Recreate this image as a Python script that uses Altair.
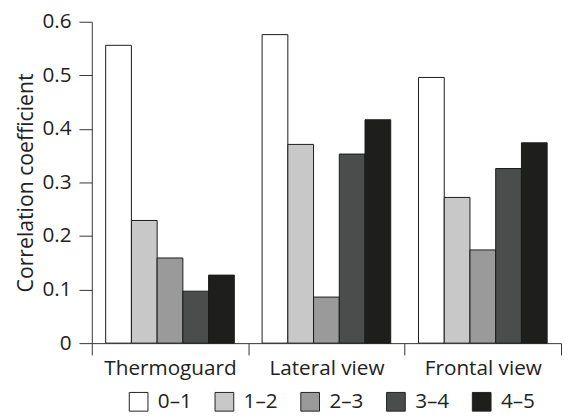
import altair as alt
import pandas as pd

groups = ["Thermoguard", "Lateral view", "Frontal view"]
bins = ["0–1", "1–2", "2–3", "3–4", "4–5"]
thermoguard = [0.556, 0.229, 0.159, 0.097, 0.127]
lateral = [0.576, 0.371, 0.086, 0.353, 0.417]
frontal = [0.496, 0.272, 0.174, 0.326, 0.374]
colors = ["#ffffff", "#c8c8c8", "#9a9a9a", "#4b4d4c", "#1e1e1c"]
y_ticks = [0, 0.1, 0.2, 0.3, 0.4, 0.5, 0.6]

rows = []
for g, vals in zip(groups, [thermoguard, lateral, frontal]):
    for b, v in zip(bins, vals):
        rows.append({"group": g, "bin": b, "value": v})
df = pd.DataFrame(rows)

FONT = "Open Sans"
TXT = "#222222"

chart = alt.Chart(df).mark_bar(stroke="#1a1a1a", strokeWidth=1).encode(
    x=alt.X("group:N", sort=groups, title=None,
            scale=alt.Scale(paddingInner=0, paddingOuter=0),
            axis=alt.Axis(labelAngle=0, tickBand="extent", tickSize=12,
                          labelFontSize=21, labelPadding=3, labelFont=FONT,
                          labelColor=TXT, domainColor="#333333", tickColor="#333333")),
    xOffset=alt.XOffset("bin:N", sort=bins,
                        scale=alt.Scale(paddingInner=0, paddingOuter=0.54)),
    y=alt.Y("value:Q", title="Correlation coefficient",
            scale=alt.Scale(domain=[0, 0.6], nice=False),
            axis=alt.Axis(values=y_ticks, grid=False, tickSize=13, labelPadding=8,
                          labelExpr="datum.value == 0 ? '0' : format(datum.value, '.1f')",
                          labelFontSize=21, labelFont=FONT, labelColor=TXT,
                          titleFontSize=21.5, titleFont=FONT, titleFontWeight="normal",
                          titleColor=TXT, titlePadding=5,
                          domainColor="#333333", tickColor="#333333")),
    color=alt.Color("bin:N", sort=bins, title=None,
                    scale=alt.Scale(domain=bins, range=colors),
                    legend=alt.Legend(orient="none", legendX=37, legendY=375,
                                      direction="horizontal", columns=5,
                                      symbolType="square", symbolSize=360,
                                      symbolStrokeColor="#222222", symbolStrokeWidth=1,
                                      symbolOpacity=1,
                                      labelFontSize=21, labelFont=FONT, labelColor=TXT,
                                      labelOffset=9, columnPadding=21)),
).properties(
    width=476, height=326,
    autosize=alt.AutoSizeParams(type="none"),
    padding={"left": 85, "top": 11, "right": 3, "bottom": 74},
).configure_view(stroke=None)

chart.save("out.html", embed_options={"renderer": "svg", "actions": False})
